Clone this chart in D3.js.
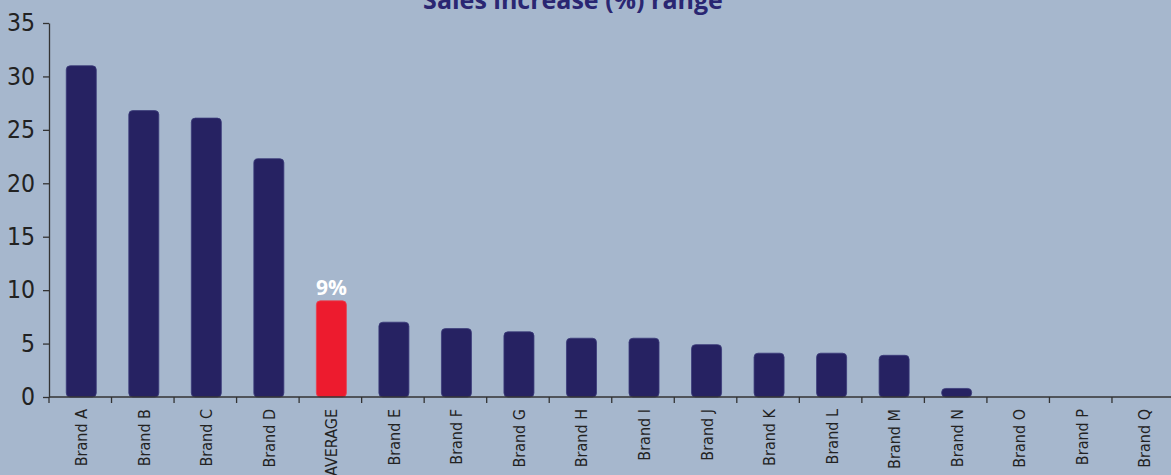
<!DOCTYPE html>
<html><head><meta charset="utf-8">
<script src="https://cdn.jsdelivr.net/npm/d3@7"></script>
<style>
html,body{margin:0;padding:0;background:#a6b7cd;overflow:hidden}
svg{display:block}
</style></head>
<body>
<script>
const categories = ["Brand A","Brand B","Brand C","Brand D","AVERAGE","Brand E","Brand F","Brand G","Brand H","Brand I","Brand J","Brand K","Brand L","Brand M","Brand N","Brand O","Brand P","Brand Q"];
const values = [31.0,26.8,26.1,22.3,9,7.0,6.4,6.1,5.5,5.5,4.9,4.1,4.1,3.9,0.8,0,0,0];
const yTicks = [0,5,10,15,20,25,30,35];
const highlight = "AVERAGE";
const highlightLabel = "9%";
const title = "Sales increase (%) range";

const W = 1171, H = 475;
const svg = d3.select("body").append("svg").attr("width", W).attr("height", H);
svg.append("rect").attr("width", W).attr("height", H).attr("fill", "#a6b7cd");

const x = d3.scaleBand().domain(categories).range([49, 1174.5]).paddingInner(0.52).paddingOuter(0.26);
const y = d3.scaleLinear().domain([0, 35]).range([397, 23]);

const font = "'Open Sans', 'Noto Sans', sans-serif";
const narrow = "'Liberation Sans Narrow', 'DejaVu Sans Condensed', 'Roboto Condensed', sans-serif";

// bars
svg.append("g").selectAll("rect").data(categories.map((c,i)=>({c, v: values[i]})))
  .enter().append("rect")
  .filter(d => d.v > 0)
  .attr("x", d => x(d.c) + 1)
  .attr("width", x.bandwidth())
  .attr("y", d => y(d.v))
  .attr("height", d => y(0) - y(d.v))
  .attr("rx", 4).attr("ry", 4)
  .attr("fill", d => d.c === highlight ? "#ed1b2e" : "#262262")
  .attr("stroke", d => d.c === highlight ? "#e8404e" : "#3a3a78")
  .attr("stroke-width", 0.8);

// value label
const hi = categories.indexOf(highlight);
svg.append("text")
  .attr("x", x(highlight) + 1 + x.bandwidth()/2)
  .attr("y", y(values[hi]) - 6)
  .attr("text-anchor", "middle")
  .attr("font-family", font).attr("font-weight", "bold").attr("font-size", 21)
  .attr("fill", "#ffffff").text(highlightLabel);

// y axis
const yAxis = d3.axisLeft(y).tickValues(yTicks).tickSize(6).tickSizeOuter(0).tickPadding(8);
const gy = svg.append("g").attr("transform", "translate(49,0)").call(yAxis);
gy.selectAll("path,line").attr("stroke", "#333").attr("stroke-width", 1.3);
gy.selectAll("text").attr("font-family", narrow).attr("font-size", 24.5).attr("fill", "#222");

// x axis
const gx = svg.append("g").attr("transform", "translate(0,397)");
gx.append("line").attr("x1", 49).attr("x2", W).attr("y1", 0).attr("y2", 0).attr("stroke", "#333").attr("stroke-width", 1.3);
const step = x.step();
gx.selectAll("line.tk").data(categories).enter().append("line").attr("class","tk")
  .attr("x1", d => x(d) - x.paddingInner()*step/2 ).attr("x2", d => x(d) - x.paddingInner()*step/2)
  .attr("y1", 0).attr("y2", 6).attr("stroke", "#333").attr("stroke-width", 1.3);
gx.selectAll("text").data(categories).enter().append("text")
  .attr("transform", d => `translate(${x(d) + 1 + x.bandwidth()/2 + 6},12) rotate(-90)`)
  .attr("text-anchor", "end")
  .attr("font-family", narrow).attr("font-size", 16).attr("fill", "#222")
  .text(d => d);

// title
svg.append("text").attr("x", 573).attr("y", 9).attr("text-anchor", "middle")
  .attr("font-family", font).attr("font-weight", "bold").attr("font-size", 25)
  .attr("fill", "#2a2672").text(title);
</script>
</body></html>
